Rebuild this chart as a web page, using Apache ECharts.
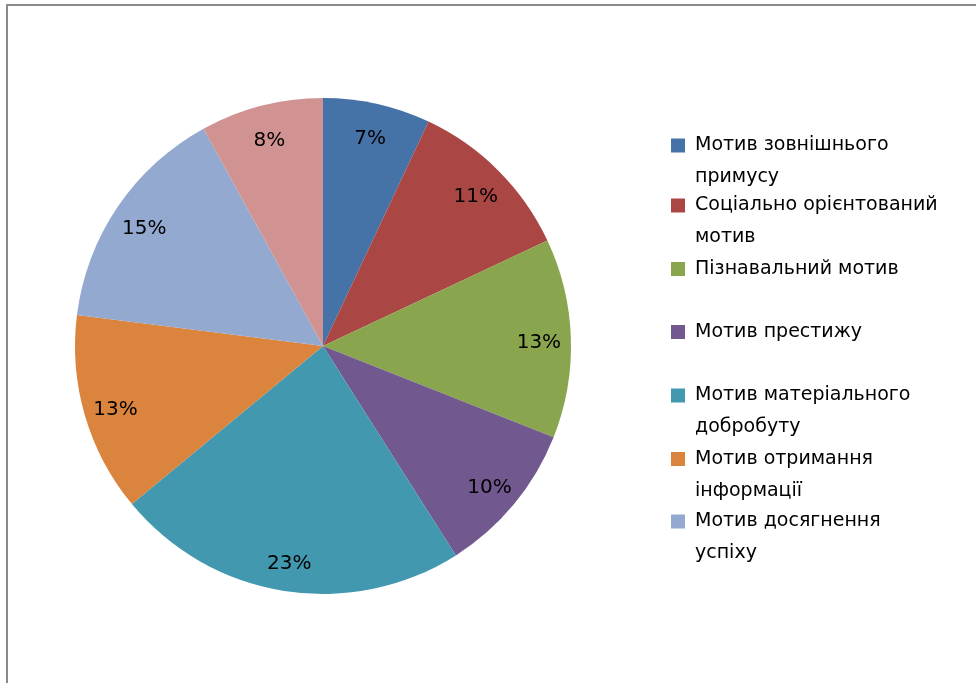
<!DOCTYPE html>
<html>
<head>
<meta charset="utf-8">
<script src="https://cdn.jsdelivr.net/npm/echarts@6/dist/echarts.min.js"></script>
<style>
html,body{margin:0;padding:0;background:#fff;}
#chart{width:976px;height:683px;}
</style>
</head>
<body>
<div id="chart"></div>
<script>
var categories = [
  'Мотив зовнішнього примусу',
  'Соціально орієнтований мотив',
  'Пізнавальний мотив',
  'Мотив престижу',
  'Мотив матеріального добробуту',
  'Мотив отримання інформації',
  'Мотив досягнення успіху',
  'Інше'
];
var values = [7, 11, 13, 10, 23, 13, 15, 8];
var colors = ['#4572A7', '#AA4643', '#89A54E', '#71588F', '#4198AF', '#DB843D', '#93A9CF', '#D19392'];
var legendLines = [
  ['Мотив зовнішнього', 'примусу'],
  ['Соціально орієнтований', 'мотив'],
  ['Пізнавальний мотив'],
  ['Мотив престижу'],
  ['Мотив матеріального', 'добробуту'],
  ['Мотив отримання', 'інформації'],
  ['Мотив досягнення', 'успіху']
];

var FONT = 'DejaVu Sans';
var LH = 32;
var legendCenters = [145.5, 205.5, 269, 332, 395.5, 459, 521.5];

var data = categories.map(function (c, i) {
  return { name: c, value: values[i], itemStyle: { color: colors[i] } };
});

var legends = legendLines.map(function (lines, i) {
  var two = lines.length > 1;
  var text = two ? ' \n' + lines.join('\n') : lines[0];
  return {
    data: [categories[i]],
    left: 671,
    top: legendCenters[i] - (two ? 1.5 : 0.5) * LH,
    orient: 'vertical',
    itemWidth: 14,
    itemHeight: 14,
    itemGap: 0,
    padding: 0,
    icon: 'rect',
    selectedMode: false,
    formatter: function () { return text; },
    textStyle: {
      fontFamily: FONT,
      fontSize: 19,
      color: '#000',
      lineHeight: LH,
      padding: [0, 0, 0, 5]
    }
  };
});

var chart = echarts.init(document.getElementById('chart'), null, { renderer: 'canvas' });
chart.setOption({
  animation: false,
  backgroundColor: '#fff',
  graphic: [{
    type: 'rect',
    shape: { x: 7, y: 5, width: 1100, height: 800 },
    style: { fill: 'none', stroke: '#8a8a8a', lineWidth: 2 },
    silent: true,
    z: -1
  }],
  legend: legends,
  series: [{
    type: 'pie',
    center: [323, 346],
    radius: [0, 248],
    startAngle: 90,
    clockwise: true,
    silent: true,
    label: { show: false },
    labelLine: { show: false },
    itemStyle: { borderWidth: 0 },
    data: data
  }, {
    type: 'pie',
    center: [323, 350],
    radius: [176, 250],
    startAngle: 90,
    clockwise: true,
    silent: true,
    itemStyle: { color: 'rgba(0,0,0,0)', borderWidth: 0 },
    labelLine: { show: false },
    label: {
      show: true,
      position: 'inside',
      formatter: '{d}%',
      fontFamily: FONT,
      fontSize: 20,
      color: '#000'
    },
    data: categories.map(function (c, i) { return { name: c, value: values[i] }; })
  }]
});
</script>
</body>
</html>
